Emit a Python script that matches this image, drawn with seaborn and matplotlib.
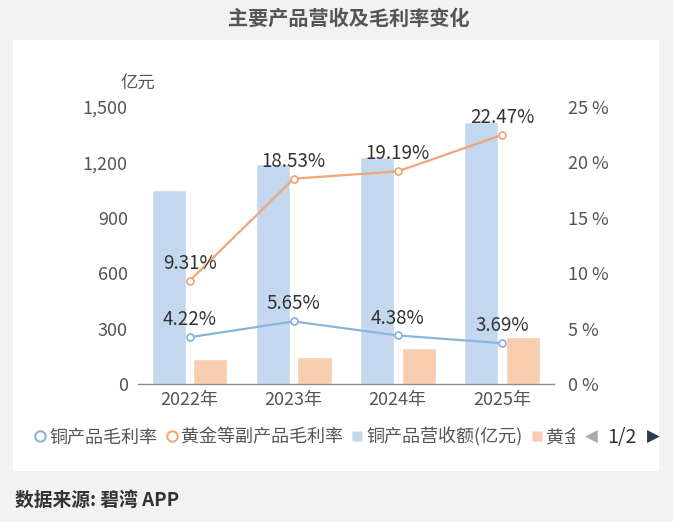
import numpy as np
import pandas as pd
import seaborn as sns
import matplotlib.pyplot as plt
from matplotlib.lines import Line2D
from matplotlib.patches import Rectangle
from matplotlib.transforms import Bbox

sns.set_style('white')
plt.rcParams['font.family'] = ['Noto Sans CJK SC', 'DejaVu Sans']

# data
years = ['2022年', '2023年', '2024年', '2025年']
copper_rev = [1050, 1190, 1228, 1418]      # 铜产品营收额(亿元)
gold_rev = [135, 147, 195, 254]            # 黄金等副产品营收额(亿元)
copper_margin = [4.22, 5.65, 4.38, 3.69]   # 铜产品毛利率 %
gold_margin = [9.31, 18.53, 19.19, 22.47]  # 黄金等副产品毛利率 %

left_ticks = [0, 300, 600, 900, 1200, 1500]
right_ticks = [0, 5, 10, 15, 20, 25]

c_bar_blue = '#c3d8ee'
c_bar_peach = '#f8cdb0'
c_line_blue = '#8cb4da'
c_line_orange = '#f0a676'
c_tick = '#555555'

df = pd.DataFrame({
    'year': years * 2,
    'value': copper_rev + gold_rev,
    'series': ['铜产品营收额(亿元)'] * 4 + ['黄金等副产品营收额(亿元)'] * 4,
})

fig = plt.figure(figsize=(6.73, 5.22), dpi=100, facecolor='#f2f2f2')
fig.patches.append(Rectangle((13 / 673, 1 - 471 / 522), 646 / 673, 431 / 522,
                             transform=fig.transFigure, facecolor='white',
                             edgecolor='none', zorder=-5))

ax = fig.add_axes([137.5 / 673, 138 / 522, 416.5 / 673, 277 / 522])
ax.set_facecolor('none')
sns.barplot(data=df, x='year', y='value', hue='series', ax=ax,
            palette=[c_bar_blue, c_bar_peach], width=0.8, gap=0.18,
            legend=False, saturation=1)
ax.set_ylim(0, 1500)
ax.set_yticks(left_ticks)
ax.set_yticklabels([f'{v:,}' for v in left_ticks])
ax.set_xlabel('')
ax.set_ylabel('')
ax.tick_params(axis='both', length=0, labelsize=13, colors=c_tick)
ax.tick_params(axis='y', pad=7)
ax.tick_params(axis='x', pad=5)
for s in ['top', 'right', 'left']:
    ax.spines[s].set_visible(False)
ax.spines['bottom'].set_color('#8c8c8c')
ax.spines['bottom'].set_linewidth(1)

ax2 = ax.twinx()
x = np.arange(len(years))
sns.lineplot(x=x, y=copper_margin, ax=ax2, color=c_line_blue, linewidth=1.6,
             marker='o', markersize=5, markerfacecolor='white',
             markeredgecolor=c_line_blue, markeredgewidth=1.3)
sns.lineplot(x=x, y=gold_margin, ax=ax2, color=c_line_orange, linewidth=1.6,
             marker='o', markersize=5, markerfacecolor='white',
             markeredgecolor=c_line_orange, markeredgewidth=1.3)
ax2.set_ylim(0, 25)
ax2.set_yticks(right_ticks)
ax2.set_yticklabels([f'{v} %' for v in right_ticks])
ax2.tick_params(axis='y', length=0, labelsize=13, colors=c_tick, pad=10)
for s in ax2.spines.values():
    s.set_visible(False)
ax.set_xlim(-0.5, 3.5)

for lbl in ax.get_xticklabels() + ax.get_yticklabels() + ax2.get_yticklabels():
    lbl.set_fontweight('light')

for xi, v in zip(x, copper_margin):
    ax2.annotate(f'{v:.2f}%', (xi, v), xytext=(0, 5), textcoords='offset points',
                 ha='center', va='bottom', fontsize=13.5, color='#333333',
                 fontweight='light')
for xi, v in zip(x, gold_margin):
    ax2.annotate(f'{v:.2f}%', (xi, v), xytext=(0, 5), textcoords='offset points',
                 ha='center', va='bottom', fontsize=13.5, color='#333333',
                 fontweight='light')

fig.text(155 / 673, 1 - 84 / 522, '亿元', ha='right', va='center',
         fontsize=12.5, color=c_tick, fontweight='light')

# title and footer
fig.text(0.518, 1 - 18 / 522, '主要产品营收及毛利率变化', ha='center', va='center',
         fontsize=14.5, fontweight='heavy', color='#555555')
fig.text(15 / 673, 1 - 500 / 522, '数据来源: 碧湾 APP', ha='left', va='center',
         fontsize=13.5, fontweight='heavy', color='#333333')

# legend (first page of a paged legend)
handles = [
    Line2D([], [], linestyle='none', marker='o', markersize=7.5,
           markerfacecolor='white', markeredgecolor=c_line_blue, markeredgewidth=1.5),
    Line2D([], [], linestyle='none', marker='o', markersize=7.5,
           markerfacecolor='white', markeredgecolor=c_line_orange, markeredgewidth=1.5),
    Line2D([], [], linestyle='none', marker='s', markersize=7.5,
           markerfacecolor=c_bar_blue, markeredgecolor='none'),
    Line2D([], [], linestyle='none', marker='s', markersize=7.5,
           markerfacecolor=c_bar_peach, markeredgecolor='none'),
]
labels = ['铜产品毛利率', '黄金等副产品毛利率', '铜产品营收额(亿元)', '黄金']
leg = fig.legend(handles, labels, loc='center left',
                 bbox_to_anchor=(22 / 673, 1 - 437 / 522), ncol=4, frameon=False,
                 fontsize=13, handlelength=0.6, handletextpad=0.2,
                 columnspacing=0.5, labelcolor=c_tick, borderpad=0.2)
for t in leg.get_texts():
    t.set_fontweight('light')
# the last entry is cut off by the page arrows
last = leg.get_texts()[3]
last.set_clip_box(Bbox.from_extents(0, 0, 575, 522))
last.set_clip_on(True)

fig.text(591 / 673, 1 - 437 / 522, '◀', ha='center', va='center',
         fontsize=12, color='#aaaaaa', family=['DejaVu Sans'])
fig.text(622 / 673, 1 - 437 / 522, '1/2', ha='center', va='center',
         fontsize=14, color='#333333', fontweight='light')
fig.text(653 / 673, 1 - 437 / 522, '▶', ha='center', va='center',
         fontsize=12, color='#2f3e4e', family=['DejaVu Sans'])

fig.savefig('out.png', dpi=100, facecolor=fig.get_facecolor())
